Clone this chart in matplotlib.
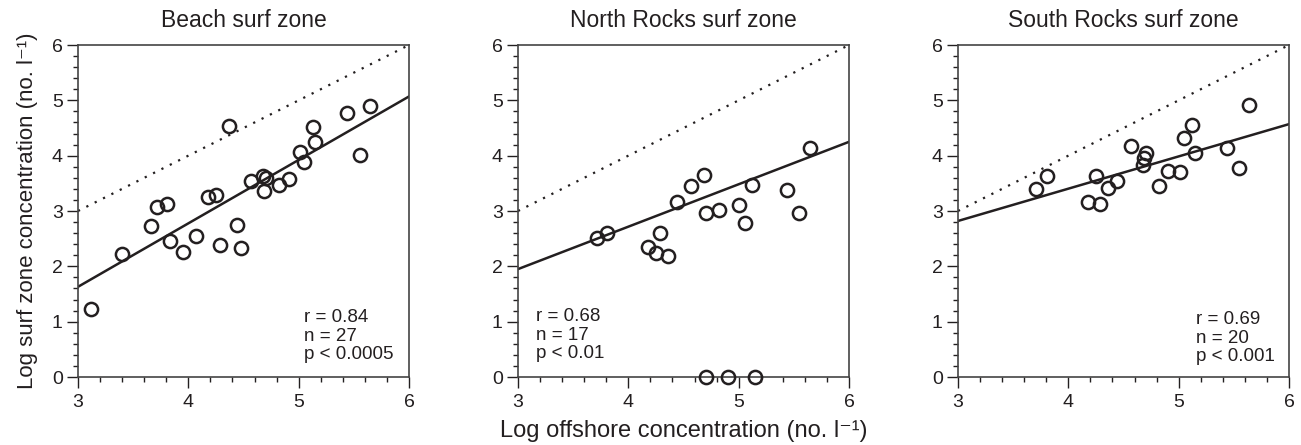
import numpy as np
import matplotlib.pyplot as plt
from matplotlib.ticker import MultipleLocator

plt.rcParams['font.family'] = ['Liberation Sans', 'DejaVu Sans']

# Beach surf zone
beach_x = [3.12, 3.40, 3.66, 3.72, 3.81, 3.83, 3.95, 4.07, 4.18, 4.25, 4.29, 4.37, 4.44, 4.48,
           4.57, 4.68, 4.70, 4.69, 4.82, 4.91, 5.01, 5.05, 5.13, 5.15, 5.44, 5.56, 5.65]
beach_y = [1.23, 2.22, 2.72, 3.08, 3.13, 2.46, 2.26, 2.55, 3.26, 3.29, 2.39, 4.54, 2.75, 2.34,
           3.54, 3.63, 3.60, 3.36, 3.47, 3.57, 4.07, 3.88, 4.51, 4.24, 4.78, 4.02, 4.89]
beach_fit = [1.63, 5.07]  # fitted line at x=3 and x=6

# North Rocks surf zone
north_x = [3.72, 3.81, 4.18, 4.25, 4.29, 4.36, 4.44, 4.57, 4.69, 4.70, 4.82, 5.00, 5.06, 5.12,
           5.44, 5.55, 5.65, 4.70, 4.90, 5.15]
north_y = [2.52, 2.60, 2.35, 2.24, 2.61, 2.19, 3.16, 3.45, 3.65, 2.97, 3.01, 3.10, 2.78, 3.47,
           3.38, 2.96, 4.13, 0.0, 0.0, 0.0]
north_fit = [1.95, 4.25]

# South Rocks surf zone
south_x = [3.71, 3.81, 4.18, 4.25, 4.29, 4.36, 4.44, 4.57, 4.70, 4.69, 4.68, 4.82, 4.90, 5.01,
           5.05, 5.12, 5.15, 5.44, 5.55, 5.64]
south_y = [3.40, 3.64, 3.16, 3.64, 3.13, 3.41, 3.55, 4.17, 4.04, 3.95, 3.84, 3.45, 3.72, 3.70,
           4.32, 4.55, 4.04, 4.14, 3.78, 4.92]
south_fit = [2.82, 4.57]

titles = ['Beach surf zone', 'North Rocks surf zone', 'South Rocks surf zone']
stats = ['r = 0.84\nn = 27\np < 0.0005', 'r = 0.68\nn = 17\np < 0.01', 'r = 0.69\nn = 20\np < 0.001']
stat_pos = [(0.683, 0.042), (0.054, 0.045), (0.718, 0.036)]

ink = '#231f20'
fig = plt.figure(figsize=(13.01, 4.45), dpi=100)
lefts = [78, 518, 958]
panels = [(beach_x, beach_y, beach_fit), (north_x, north_y, north_fit), (south_x, south_y, south_fit)]

for i, (xs, ys, fit) in enumerate(panels):
    ax = fig.add_axes([lefts[i] / 1301, 68 / 445, 331 / 1301, 332 / 445])
    ax.plot([3, 6], [3, 6], ls=(0, (1, 3.2)), lw=1.6, color=ink)
    ax.plot([3, 6], fit, color=ink, lw=1.8)
    ax.plot(xs, ys, 'o', mfc='none', mec=ink, ms=9.5, mew=1.8, clip_on=False, zorder=5)
    ax.set_xlim(3, 6)
    ax.set_ylim(0, 6)
    ax.xaxis.set_major_locator(MultipleLocator(1))
    ax.xaxis.set_minor_locator(MultipleLocator(0.2))
    ax.yaxis.set_major_locator(MultipleLocator(1))
    ax.yaxis.set_minor_locator(MultipleLocator(0.2))
    ax.tick_params(which='major', direction='out', length=8, width=1, color=ink,
                   labelsize=14, labelcolor=ink)
    ax.tick_params(axis='x', which='major', pad=4.5)
    ax.tick_params(axis='y', which='major', pad=3)
    ax.tick_params(which='minor', direction='out', length=3.5, width=1, color=ink)
    for s in ax.spines.values():
        s.set_color('#444444')
        s.set_linewidth(1.2)
    ax.set_title(titles[i], fontsize=16.5, color=ink, pad=13)
    ax.text(stat_pos[i][0], stat_pos[i][1], stats[i], transform=ax.transAxes,
            fontsize=13.5, color=ink, va='bottom', ha='left', linespacing=1.1)
    if i == 0:
        ax.set_ylabel('Log surf zone concentration (no. l\u207b\u00b9)', fontsize=16, color=ink, labelpad=10)
    if i == 1:
        ax.set_xlabel('Log offshore concentration (no. l\u207b\u00b9)', fontsize=17, color=ink, labelpad=6)

fig.savefig('out.png', dpi=100)
